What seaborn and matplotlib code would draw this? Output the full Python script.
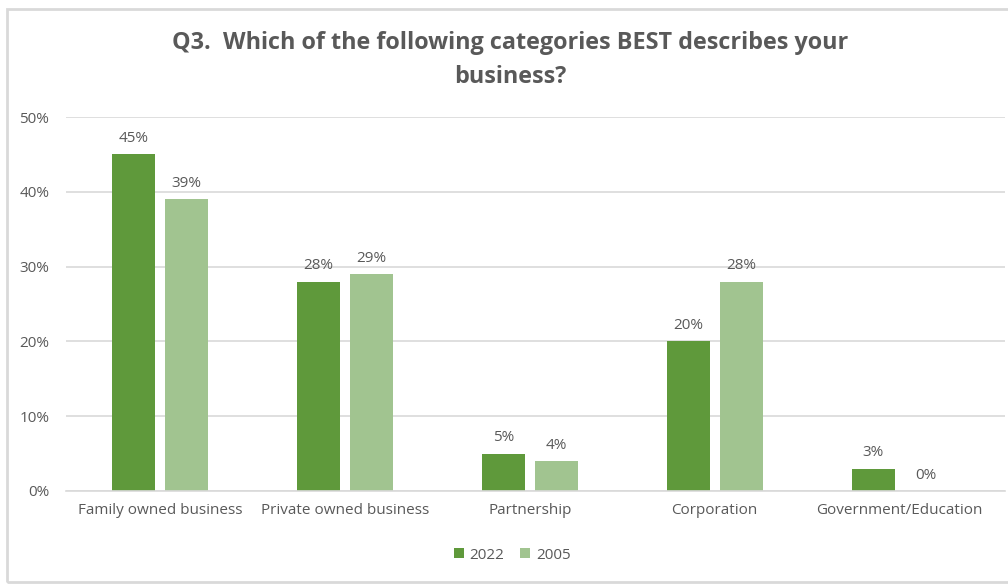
import matplotlib
matplotlib.use("Agg")
import matplotlib.pyplot as plt
from matplotlib.patches import Rectangle
import seaborn as sns
import pandas as pd

categories = ["Family owned business", "Private owned business", "Partnership",
              "Corporation", "Government/Education"]
years = ["2022", "2005"]
values_2022 = [45, 28, 5, 20, 3]
values_2005 = [39, 29, 4, 28, 0]
ytick_labels = ["0%", "10%", "20%", "30%", "40%", "50%"]
title = "Q3.  Which of the following categories BEST describes your\nbusiness?"

colors = {"2022": "#5F993B", "2005": "#A1C490"}
text_color = "#595959"
font = "Open Sans"

df = pd.DataFrame({
    "category": categories * 2,
    "year": [years[0]] * len(categories) + [years[1]] * len(categories),
    "value": values_2022 + values_2005,
})

sns.set_theme(style="white")
plt.rcParams["font.family"] = [font, "DejaVu Sans"]

fig = plt.figure(figsize=(10.08, 5.86), dpi=100)
ax = fig.add_axes([66 / 1008, 1 - 491 / 586, (1005 - 66) / 1008, (491 - 117) / 586])

sns.barplot(data=df, x="category", y="value", hue="year", order=categories,
            hue_order=years, palette=colors, width=0.574, gap=0.19,
            saturation=1, linewidth=0, ax=ax, legend=True)

ax.set_ylim(0, 50)
ax.set_xlim(-0.508, 4.57)
ax.set_yticks(range(0, 51, 10))
ax.set_yticklabels(ytick_labels)
ax.yaxis.grid(True, color="#D9D9D9", linewidth=1.2)
ax.set_axisbelow(True)
for side in ["top", "right", "left"]:
    ax.spines[side].set_visible(False)
ax.spines["bottom"].set_color("#D9D9D9")
ax.spines["bottom"].set_linewidth(1.2)
ax.tick_params(axis="both", length=0, colors=text_color, labelsize=11)
ax.tick_params(axis="y", pad=12)
ax.tick_params(axis="x", pad=9)
ax.set_xlabel("")
ax.set_ylabel("")

for container in ax.containers:
    ax.bar_label(container, labels=[f"{v:.0f}%" for v in container.datavalues],
                 padding=6, color=text_color, fontsize=11)

leg = ax.legend(loc="upper center", bbox_to_anchor=(0.475, -0.115), ncol=2,
                frameon=False, fontsize=11, handlelength=0.65, handleheight=0.65,
                handletextpad=0.4, columnspacing=1.0, labelcolor=text_color)

fig.text(0.506, 0.897, title, ha="center", va="center", fontsize=16.8,
         fontweight="bold", color=text_color, linespacing=1.55)

fig.patches.append(Rectangle((7 / 1008, 1 - 582 / 586), 1.1, (582 - 9) / 586,
                             transform=fig.transFigure, fill=False,
                             edgecolor="#D9D9D9", linewidth=2))

fig.savefig("out.png", dpi=100)
